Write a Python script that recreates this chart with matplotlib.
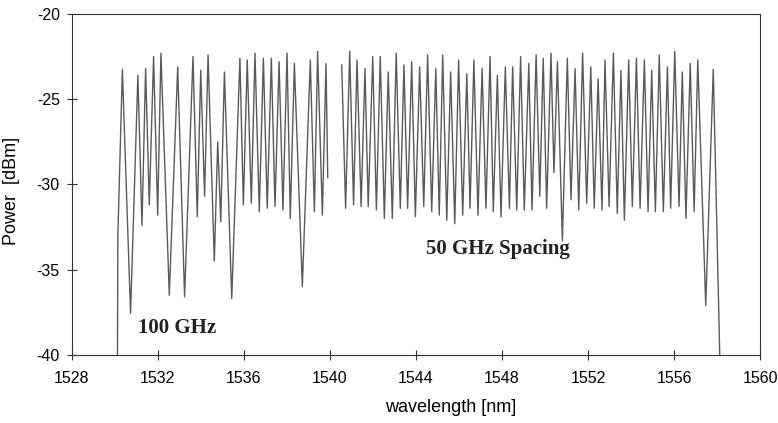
import matplotlib
matplotlib.use("Agg")
import matplotlib.pyplot as plt
import numpy as np

# peak / valley vertices (nm, dBm)
wl_a = [1530.12, 1530.15, 1530.36, 1530.74, 1531.08, 1531.27, 1531.44, 1531.61, 1531.81,
        1532.00, 1532.15, 1532.54, 1532.93, 1533.25, 1533.64, 1533.84, 1534.00, 1534.18,
        1534.34, 1534.63, 1534.79, 1534.93, 1535.10, 1535.44, 1535.82, 1535.98, 1536.16,
        1536.35, 1536.52, 1536.72, 1536.91, 1537.09, 1537.28, 1537.45, 1537.64, 1537.82,
        1538.01, 1538.16, 1538.35, 1538.72, 1539.09, 1539.28, 1539.43, 1539.65, 1539.82,
        1539.90]
pw_a = [-45.0, -33.0, -23.25, -37.57, -23.6, -32.4, -23.2, -31.2, -22.5,
        -31.8, -22.3, -36.5, -23.1, -36.6, -22.5, -31.9, -23.3, -30.7,
        -22.4, -34.5, -27.5, -32.2, -23.4, -36.7, -22.6, -31.2, -22.7,
        -31.1, -22.3, -31.6, -22.6, -31.4, -22.6, -31.3, -22.8, -31.5,
        -22.3, -32.0, -22.9, -36.0, -22.7, -31.6, -22.2, -31.8, -22.9,
        -29.6]

wl_b = [1540.55, 1540.73, 1540.92, 1541.10, 1541.26, 1541.45, 1541.63, 1541.78, 1541.99,
        1542.16, 1542.34, 1542.53, 1542.71, 1542.90, 1543.08, 1543.27, 1543.44, 1543.61,
        1543.80, 1543.97, 1544.17, 1544.36, 1544.54, 1544.73, 1544.92, 1545.08, 1545.24,
        1545.43, 1545.61, 1545.80, 1545.98, 1546.17, 1546.36, 1546.51, 1546.69, 1546.88,
        1547.07, 1547.25, 1547.44, 1547.59, 1547.78, 1547.95, 1548.15, 1548.34, 1548.49,
        1548.68, 1548.86, 1549.03, 1549.24, 1549.39, 1549.58, 1549.75, 1549.91, 1550.07,
        1550.27, 1550.41, 1550.57, 1550.80, 1551.03, 1551.20, 1551.39, 1551.56, 1551.74,
        1551.93, 1552.12, 1552.28, 1552.46, 1552.64, 1552.78, 1552.97, 1553.17, 1553.35,
        1553.52, 1553.68, 1553.88, 1554.05, 1554.24, 1554.41, 1554.61, 1554.78, 1554.95,
        1555.12, 1555.30, 1555.49, 1555.68, 1555.83, 1556.02, 1556.22, 1556.37, 1556.54,
        1556.74, 1556.92, 1557.09, 1557.46, 1557.81, 1558.20]
pw_b = [-23.0, -31.4, -22.2, -31.2, -22.7, -31.3, -23.2, -31.3, -22.5,
        -31.5, -22.5, -32.0, -23.4, -32.0, -22.3, -31.4, -23.0, -31.4,
        -22.8, -31.9, -23.1, -31.3, -22.4, -31.6, -23.2, -31.8, -22.4,
        -32.1, -23.4, -32.3, -22.7, -31.8, -23.5, -31.4, -22.7, -31.8,
        -23.2, -31.4, -22.5, -31.6, -23.6, -31.9, -23.1, -31.4, -23.1,
        -31.5, -22.5, -31.5, -22.9, -31.5, -22.4, -30.7, -22.6, -31.4,
        -22.3, -29.3, -22.8, -33.3, -22.6, -30.9, -23.2, -31.5, -22.3,
        -31.1, -23.1, -31.4, -23.8, -31.5, -22.7, -31.3, -22.3, -31.7,
        -23.3, -32.1, -22.7, -31.3, -22.6, -31.4, -22.7, -31.6, -23.3,
        -31.6, -22.4, -31.6, -23.1, -31.4, -22.2, -31.3, -23.4, -32.0,
        -22.9, -31.6, -22.7, -37.1, -23.25, -45.0]

xticks = [1528, 1532, 1536, 1540, 1544, 1548, 1552, 1556, 1560]
yticks = [-20, -25, -30, -35, -40]

plt.rcParams['axes.unicode_minus'] = False
plt.rcParams['font.family'] = ['Liberation Sans', 'DejaVu Sans']

fig = plt.figure(figsize=(7.78, 4.23), dpi=100)
ax = fig.add_axes([0.092, 0.161, 0.8854, 0.806])

ax.plot(wl_a, pw_a, color='#5a5a5a', lw=1.0)
ax.plot(wl_b, pw_b, color='#5a5a5a', lw=1.0)

ax.set_xlim(1528, 1560)
ax.set_ylim(-40, -20)
ax.set_xticks(xticks)
ax.set_yticks(yticks)
ax.tick_params(direction='inout', length=7, width=0.8, labelsize=11.5, color='#333333')
ax.tick_params(axis='x', pad=8)
ax.tick_params(axis='y', pad=5)
for s in ax.spines.values():
    s.set_linewidth(0.8)
    s.set_color('#333333')

ax.set_xlabel('wavelength [nm]', fontsize=13)
ax.set_ylabel('Power  [dBm]', fontsize=13)
ax.xaxis.set_label_coords(0.551, -0.13)
ax.yaxis.set_label_coords(-0.075, 0.48)

ax.text(1531.08, -38.4, '100 GHz', fontsize=15, fontweight='bold',
        family=['Liberation Serif', 'DejaVu Serif'], va='center', color='#222222')
ax.text(1544.46, -33.76, '50 GHz Spacing', fontsize=15, fontweight='bold',
        family=['Liberation Serif', 'DejaVu Serif'], va='center', color='#222222')

fig.savefig('out.png', dpi=100)
